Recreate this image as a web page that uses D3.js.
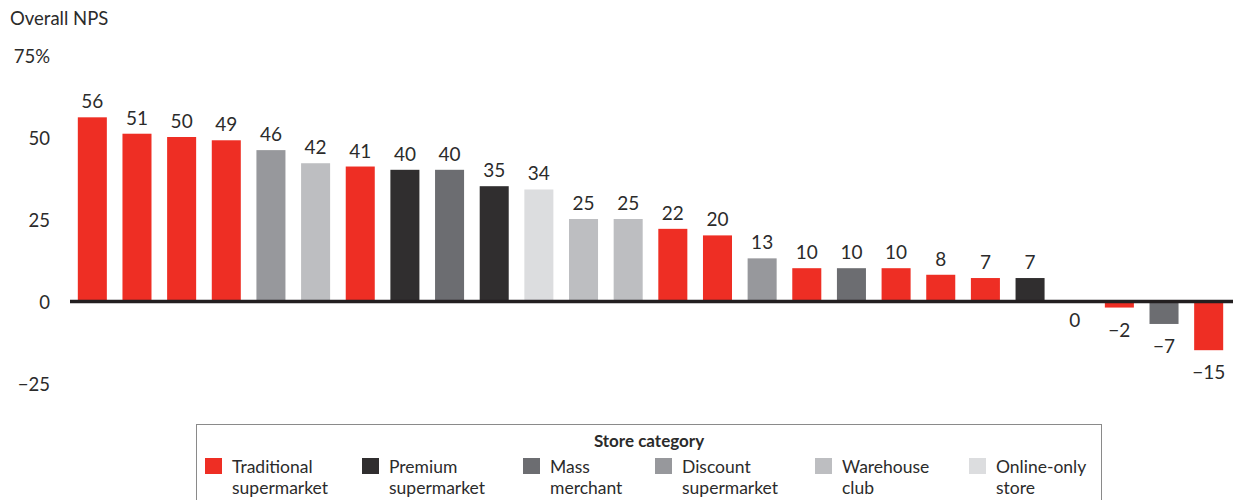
<!DOCTYPE html>
<html><head><meta charset="utf-8">
<script src="https://cdn.jsdelivr.net/npm/d3@7"></script>
<style>body{margin:0;background:#fff}svg{display:block}text{font-family:Lato,"Noto Sans",sans-serif;fill:#2b2b2b}</style>
</head><body><svg id="c" width="1233" height="500"></svg>
<script>
const values = [56,51,50,49,46,42,41,40,40,35,34,25,25,22,20,13,10,10,10,8,7,7,0,-2,-7,-15];
const storeTypes = ["trad","trad","trad","trad","disc","ware","trad","prem","mass","prem","online","ware","ware","trad","trad","disc","trad","mass","trad","trad","trad","prem","trad","trad","mass","trad"];
const categoryKeys = ["trad","prem","mass","disc","ware","online"];
const categoryLines = [["Traditional","supermarket"],["Premium","supermarket"],["Mass","merchant"],["Discount","supermarket"],["Warehouse","club"],["Online-only","store"]];
const categoryColors = ["#ee2e24","#302e2f","#6c6d71","#97989c","#bdbec1","#dcdddf"];
const tickValues = [-25,0,25,50,75];
const tickLabels = ["\u221225","0","25","50","75%"];

const svg = d3.select("#c");
const color = d3.scaleOrdinal().domain(categoryKeys).range(categoryColors);
const idx = values.map((_,i)=>i);
const x = d3.scaleBand().domain(idx).range([70,1231]).paddingInner(0.35).paddingOuter(0.175);
const y = d3.scaleLinear().domain([-25,75]).range([383,55]);

svg.append("text").attr("x",10).attr("y",25).attr("font-size",18.5).text("Overall NPS");

const yAxis = svg.append("g").attr("transform","translate(50,2)")
  .call(d3.axisLeft(y).tickValues(tickValues).tickSize(0).tickPadding(0)
    .tickFormat((d,i)=>tickLabels[tickValues.indexOf(d)]));
yAxis.select(".domain").remove();
yAxis.selectAll("text").attr("font-size",18.5).attr("font-family","Lato,'Noto Sans',sans-serif").attr("fill","#2b2b2b");

svg.append("g").selectAll("rect").data(idx).join("rect")
  .attr("x",i=>x(i)).attr("width",x.bandwidth())
  .attr("y",i=>y(Math.max(0,values[i])))
  .attr("height",i=>Math.abs(y(values[i])-y(0)))
  .attr("fill",i=>color(storeTypes[i]));

svg.append("line").attr("x1",70).attr("x2",1233).attr("y1",y(0)+0.5).attr("y2",y(0)+0.5)
  .attr("stroke","#231f20").attr("stroke-width",3.5);

svg.append("g").selectAll("text").data(idx).join("text")
  .attr("x",i=>x(i)+x.bandwidth()/2)
  .attr("y",i=>values[i]>0 ? y(values[i])-9 : (values[i]===0 ? y(0)+26 : y(values[i])+29))
  .attr("text-anchor","middle").attr("font-size",19)
  .text(i=>values[i]<0 ? "\u2212"+Math.abs(values[i]) : values[i]);

// legend
const lg = svg.append("g");
lg.append("rect").attr("x",196.5).attr("y",424.5).attr("width",905).attr("height",100)
  .attr("fill","none").attr("stroke","#8a8a8a").attr("stroke-width",1);
lg.append("text").attr("x",649).attr("y",447).attr("text-anchor","middle")
  .attr("font-size",17).attr("font-weight","bold").text("Store category");
const legX = [205,362,523,655,815,969];
const items = lg.selectAll("g.item").data(categoryKeys).join("g").attr("class","item")
  .attr("transform",(d,i)=>`translate(${legX[i]},0)`);
items.append("rect").attr("x",0).attr("y",458).attr("width",17).attr("height",16).attr("fill",d=>color(d));
items.each(function(d,i){
  const t = d3.select(this).append("text").attr("x",27).attr("y",473).attr("font-size",17.5);
  t.append("tspan").attr("x",27).attr("y",473).text(categoryLines[i][0]);
  t.append("tspan").attr("x",27).attr("y",494).text(categoryLines[i][1]);
});
</script></body></html>
